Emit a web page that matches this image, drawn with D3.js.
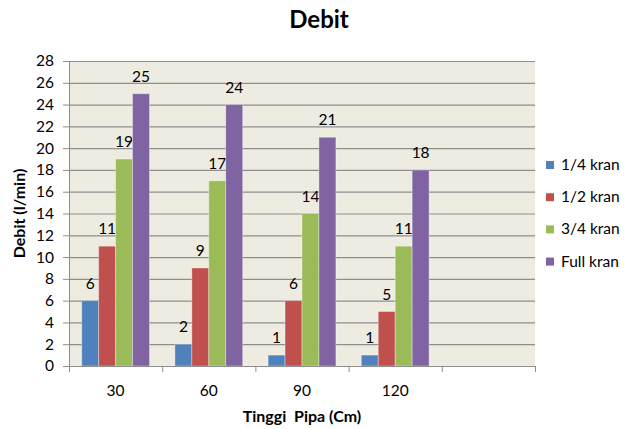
<!DOCTYPE html>
<html>
<head>
<meta charset="utf-8">
<title>Debit</title>
<script src="https://d3js.org/d3.v7.min.js"></script>
<style>
  body { margin: 0; background: #fff; }
  svg text { font-family: Lato, "Open Sans", sans-serif; fill: #000; }
</style>
</head>
<body>
<div id="chart"></div>
<script>
// categories on the x axis (the last slot is empty in the original)
var categories = ["30", "60", "90", "120", ""];
var seriesNames = ["1/4 kran", "1/2 kran", "3/4 kran", "Full kran"];
var seriesColors = ["#4F81BD", "#C0504D", "#9BBB59", "#8064A2"];

// values per series, one for each filled category
var kranQuarter = [6, 2, 1, 1];
var kranHalf = [11, 9, 6, 5];
var kranThreeQuarter = [19, 17, 14, 11];
var kranFull = [25, 24, 21, 18];
var seriesValues = [kranQuarter, kranHalf, kranThreeQuarter, kranFull];

var yTicks = d3.range(0, 29, 2);

var W = 624, H = 429;
var margin = {top: 61, right: 89, bottom: 63, left: 69},
    width = W - margin.left - margin.right,
    height = H - margin.top - margin.bottom;

var svg = d3.select("#chart").append("svg")
    .attr("width", W)
    .attr("height", H);

var g = svg.append("g")
    .attr("transform", "translate(" + margin.left + "," + margin.top + ")");

// scales
var x0 = d3.scaleBand().domain(categories).range([0, width]).padding(0);
var x1 = d3.scaleBand().domain(seriesNames).range([0, x0.bandwidth()])
    .paddingInner(0).paddingOuter(0.75);
var xEdge = d3.scaleLinear().domain([0, categories.length]).range([0, width]);
var y = d3.scaleLinear().domain([0, 28]).range([height, 0]);
var color = d3.scaleOrdinal().domain(seriesNames).range(seriesColors);

// plot background
g.append("rect")
    .attr("width", width)
    .attr("height", height)
    .attr("fill", "#EEECE1");

// gridlines
g.append("g").selectAll("line")
    .data(yTicks)
    .join("line")
    .attr("x1", 0).attr("x2", width)
    .attr("y1", d => y(d) + 0.5).attr("y2", d => y(d) + 0.5)
    .attr("stroke", "#8e8e8e")
    .attr("stroke-width", 1.2);

// bars
var rows = [];
seriesNames.forEach(function(s, i) {
    seriesValues[i].forEach(function(v, j) {
        rows.push({series: s, cat: categories[j], value: v});
    });
});

var bars = g.append("g").selectAll("g")
    .data(rows)
    .join("g");

bars.append("rect")
    .attr("x", d => x0(d.cat) + x1(d.series))
    .attr("y", d => y(d.value))
    .attr("width", x1.bandwidth())
    .attr("height", d => height - y(d.value))
    .attr("fill", d => color(d.series))
    .attr("stroke", "rgba(255,255,255,0.35)")
    .attr("stroke-width", 1);

// data labels
bars.append("text")
    .attr("x", d => x0(d.cat) + x1(d.series) + x1.bandwidth() / 2)
    .attr("y", d => y(d.value) - 12)
    .attr("text-anchor", "middle")
    .style("font-size", "15.5px")
    .text(d => d.value);

// y axis
var yAxis = g.append("g")
    .call(d3.axisLeft(y).tickValues(yTicks).tickSize(6).tickPadding(9));
yAxis.selectAll("text").style("font-size", "15.5px");
yAxis.selectAll("line, path").attr("stroke", "#8e8e8e");
yAxis.select(".domain").attr("d", "M-6,0.5H0.5V" + (height + 0.5));

// x axis: tick marks on the category borders, labels in the middle
var xAxis = g.append("g")
    .attr("transform", "translate(0," + height + ")")
    .call(d3.axisBottom(xEdge).ticks(categories.length).tickFormat("").tickSize(6).tickSizeOuter(6));
xAxis.selectAll("line, path").attr("stroke", "#8e8e8e");

g.append("g").selectAll("text")
    .data(categories)
    .join("text")
    .attr("x", d => x0(d) + x0.bandwidth() / 2)
    .attr("y", height + 30)
    .attr("text-anchor", "middle")
    .style("font-size", "15.5px")
    .text(d => d);

// titles
svg.append("text")
    .attr("x", 319)
    .attr("y", 28)
    .attr("text-anchor", "middle")
    .style("font-size", "24px")
    .style("font-weight", "bold")
    .text("Debit");

svg.append("text")
    .attr("x", margin.left + width / 2)
    .attr("y", 422)
    .attr("text-anchor", "middle")
    .style("font-size", "16px")
    .style("font-weight", "bold")
    .attr("xml:space", "preserve")
    .text("Tinggi  Pipa (Cm)");

svg.append("text")
    .attr("transform", "translate(25," + (margin.top + height / 2) + ") rotate(-90)")
    .attr("text-anchor", "middle")
    .style("font-size", "16px")
    .style("font-weight", "bold")
    .text("Debit (l/min)");

// legend
var legend = svg.append("g")
    .attr("transform", "translate(546,165)");

var item = legend.selectAll("g")
    .data(seriesNames)
    .join("g")
    .attr("transform", (d, i) => "translate(0," + i * 32.2 + ")");

item.append("rect")
    .attr("x", 0).attr("y", -4)
    .attr("width", 8).attr("height", 8)
    .attr("fill", d => color(d));

item.append("text")
    .attr("x", 15)
    .attr("y", 5)
    .style("font-size", "15.5px")
    .text(d => d);
</script>
</body>
</html>
